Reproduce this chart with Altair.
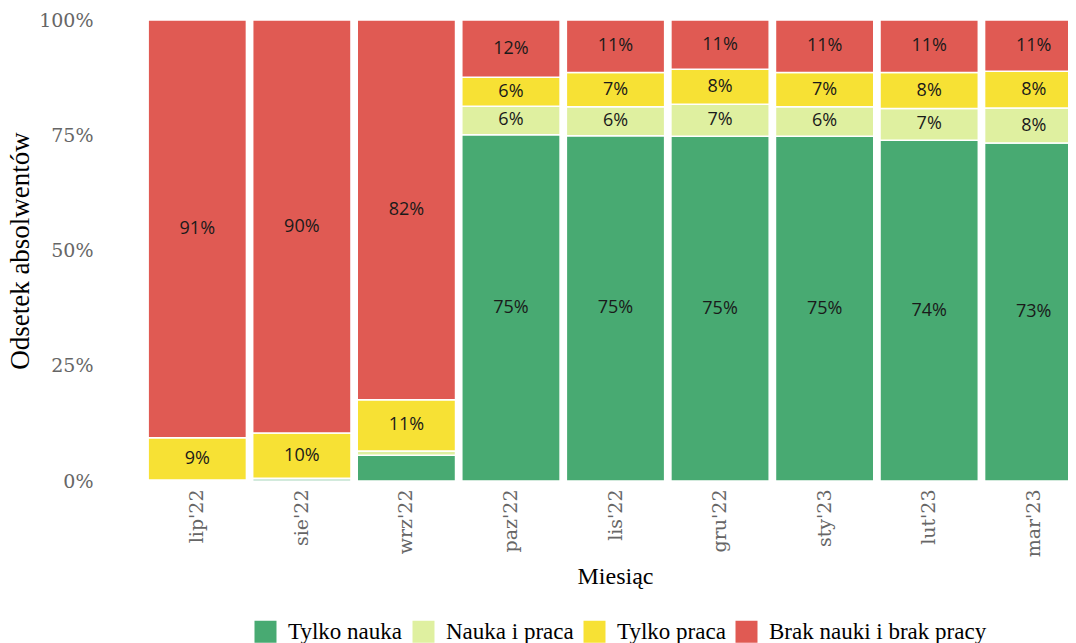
import altair as alt
import pandas as pd

months = ["lip'22", "sie'22", "wrz'22", "paz'22", "lis'22", "gru'22", "sty'23", "lut'23", "mar'23"]
categories = ["Tylko nauka", "Nauka i praca", "Tylko praca", "Brak nauki i brak pracy"]
colors = ["#48aa72", "#dff0a0", "#f7e134", "#e05a53"]

tylko_nauka = [0.1, 0.5, 5.6, 75.1, 74.9, 74.8, 74.8, 73.9, 73.3]
nauka_praca = [0.1, 0.1, 0.9, 6.2, 6.3, 6.9, 6.4, 6.9, 7.6]
tylko_praca = [9.2, 9.8, 11.1, 6.3, 7.4, 7.6, 7.4, 7.8, 8.0]
brak = [90.6, 89.6, 82.4, 12.4, 11.4, 10.7, 11.4, 11.4, 11.1]

series = [tylko_nauka, nauka_praca, tylko_praca, brak]
rows = []
for ci, (cat, vals) in enumerate(zip(categories, series)):
    for m, v in zip(months, vals):
        rows.append({"month": m, "cat": cat, "ord": ci, "value": v})
df = pd.DataFrame(rows)

base = alt.Chart(df).transform_calculate(
    frac="datum.value / 100"
).transform_stack(
    stack="frac", as_=["y0", "y1"], groupby=["month"], sort=[alt.SortField("ord", order="ascending")]
).transform_calculate(
    ymid="(datum.y0 + datum.y1) / 2",
    label="format(datum.value, '.0f') + '%'"
)

xscale = alt.Scale(paddingInner=0.06, paddingOuter=0.03, range=[0, 941])

xenc = alt.X("month:N", sort=months, title="Miesiąc", scale=xscale,
             axis=alt.Axis(labelAngle=270, labelFont="DejaVu Serif", labelFontSize=19,
                           labelColor="#666666", ticks=False, domain=False, labelPadding=8,
                           titleFont="Liberation Serif", titleFontSize=24, titleFontWeight="normal",
                           titleColor="#000000", titlePadding=8, titleX=470))

bars = base.mark_bar(stroke="white", strokeWidth=1.5).encode(
    x=xenc,
    y=alt.Y("y0:Q", title="Odsetek absolwentów",
            scale=alt.Scale(domain=[0, 1], nice=False),
            axis=alt.Axis(values=[0, 0.25, 0.5, 0.75, 1], format=".0%", grid=False, ticks=False,
                          domain=False, labelFont="DejaVu Serif", labelFontSize=19,
                          labelColor="#666666", labelPadding=52,
                          titleFont="Liberation Serif", titleFontSize=27, titleFontWeight="normal",
                          titleColor="#000000", titleX=-111)),
    y2="y1:Q",
    color=alt.Color("cat:N", sort=categories,
                    scale=alt.Scale(domain=categories, range=colors),
                    legend=alt.Legend(title=None, orient="none", direction="horizontal",
                                      legendX=109, legendY=600,
                                      symbolType="square", symbolSize=484, symbolStrokeWidth=0,
                                      labelFont="Liberation Serif", labelFontSize=23,
                                      labelColor="#000000", labelOffset=11, columnPadding=9,
                                      labelLimit=400, symbolOpacity=1)),
    order=alt.Order("ord:Q")
)

texts = base.transform_filter("datum.value >= 6").mark_text(
    font="Open Sans", fontSize=18, color="#1a1a1a"
).encode(
    x=alt.X("month:N", sort=months, scale=xscale),
    y=alt.Y("ymid:Q"),
    text="label:N"
)

chart = alt.layer(bars, texts).properties(
    width=923, height=461,
    autosize=alt.AutoSizeParams(type="none"),
    padding={"left": 137, "top": 12, "right": 0, "bottom": 190}
).configure_view(stroke=None)

chart.save("out.html", embed_options={"renderer": "svg", "actions": False})
